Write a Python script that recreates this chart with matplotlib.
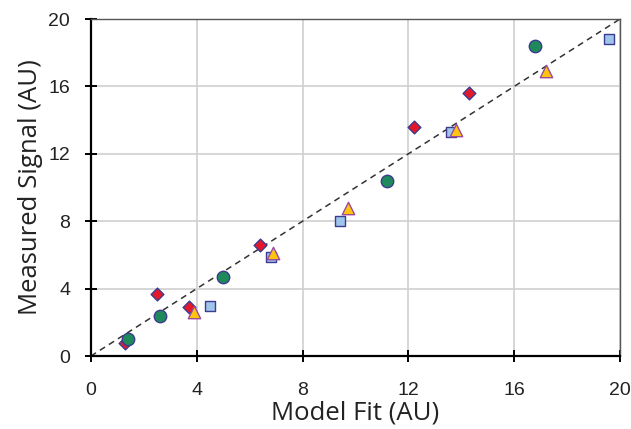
import numpy as np
import matplotlib
matplotlib.use('Agg')
import matplotlib.pyplot as plt

# data
dia_x = [1.3, 2.5, 3.7, 6.4, 12.2, 14.3]
dia_y = [0.8, 3.7, 2.9, 6.6, 13.6, 15.6]
circ_x = [1.4, 2.6, 5.0, 11.2, 16.8]
circ_y = [1.0, 2.4, 4.7, 10.4, 18.4]
sq_x = [4.5, 6.8, 9.4, 13.6, 19.6]
sq_y = [3.0, 5.9, 8.0, 13.3, 18.8]
tri_x = [3.9, 6.9, 9.7, 13.8, 17.2]
tri_y = [2.6, 6.1, 8.8, 13.4, 16.9]
fit = [0, 20]
ticks = [0, 4, 8, 12, 16, 20]

fig = plt.figure(figsize=(6.31, 4.29), dpi=100)
ax = fig.add_axes([0.144, 0.170, 0.8386, 0.7857])

ax.plot(fit, fit, color='#333333', ls=(0, (4, 3)), lw=1.1, zorder=2)
edge = '#3b3b8f'
ax.scatter(dia_x, dia_y, marker='D', s=42, c='#e3192b', edgecolors=edge, linewidths=1.0, zorder=3)
ax.scatter(circ_x, circ_y, marker='o', s=80, c='#1e8a5c', edgecolors=edge, linewidths=1.0, zorder=3)
ax.scatter(sq_x, sq_y, marker='s', s=52, c='#9fc5ea', edgecolors=edge, linewidths=1.0, zorder=3)
ax.scatter(tri_x, tri_y, marker='^', s=80, c='#ffc40f', edgecolors='#9c4a9e', linewidths=1.0, zorder=3)

ax.set_xlim(0, 20)
ax.set_ylim(0, 20)
ax.set_xticks(ticks)
ax.set_yticks(ticks)
ax.grid(True, color='#d0d0d0', lw=1.2)
ax.set_axisbelow(True)

for s in ['left', 'bottom']:
    ax.spines[s].set_linewidth(1.6)
    ax.spines[s].set_color('black')
for s in ['top', 'right']:
    ax.spines[s].set_linewidth(1.0)
    ax.spines[s].set_color('#555555')
ax.tick_params(direction='inout', length=8, width=1.4, labelsize=14,
               top=False, right=False)
ax.tick_params(axis='x', pad=15)
ax.tick_params(axis='y', pad=11)
for lab in ax.get_xticklabels() + ax.get_yticklabels():
    lab.set_family('Liberation Sans')
    lab.set_color('#222222')

ax.set_xlabel('Model Fit (AU)', fontsize=18.5, family='Open Sans', color='#222222', labelpad=1)
ax.set_ylabel('Measured Signal (AU)', fontsize=18.5, family='Open Sans', color='#222222', labelpad=4)

fig.savefig('out.png', dpi=100)
